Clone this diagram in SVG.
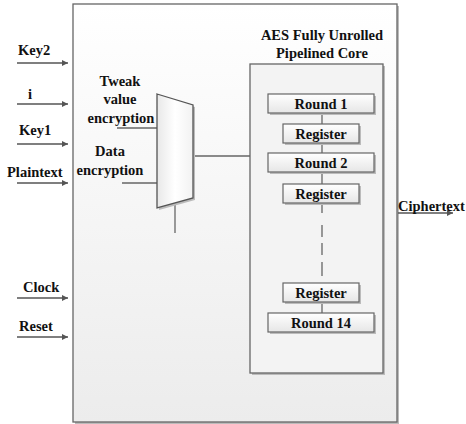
<svg xmlns="http://www.w3.org/2000/svg" width="466" height="424" viewBox="0 0 466 424">
<defs>
<linearGradient id="gBig" x1="0" y1="0" x2="0" y2="1"><stop offset="0" stop-color="#ffffff"/><stop offset="1" stop-color="#ececec"/></linearGradient>
<linearGradient id="gBox" x1="0" y1="0" x2="0" y2="1"><stop offset="0" stop-color="#ffffff"/><stop offset="1" stop-color="#e6e6e6"/></linearGradient>
<linearGradient id="gMux" x1="0" y1="0" x2="1" y2="0"><stop offset="0" stop-color="#e8e8e8"/><stop offset="0.5" stop-color="#ffffff"/><stop offset="1" stop-color="#f2f2f2"/></linearGradient>
<marker id="arr" viewBox="0 0 10 10" refX="10" refY="5" markerWidth="6" markerHeight="6" markerUnits="userSpaceOnUse" orient="auto"><path d="M0,0 L10,5 L0,10 z" fill="#555"/></marker>
</defs>
<style>
text{font-family:'Liberation Serif','Times New Roman',Times,serif;font-weight:700;font-size:14.5px;fill:#111}
.ln{stroke:#666;stroke-width:1.3;fill:none}
.bx{fill:url(#gBox);stroke:#666;stroke-width:1.2}
.sh{fill:#bbb}
.in{stroke:#555;stroke-width:1.3;fill:none;marker-end:url(#arr)}
</style>
<rect width="466" height="424" fill="#ffffff"/>
<g id="main">
<rect x="75" y="6" width="324" height="418" class="sh"/>
<rect x="73" y="4" width="324" height="418" fill="url(#gBig)" stroke="#666" stroke-width="1.3"/>
</g>
<g id="core">
<rect x="252" y="66" width="133" height="309" class="sh"/>
<rect x="250" y="64" width="133" height="309" fill="#f3f3f3" stroke="#666" stroke-width="1.3"/>
<text x="322" y="40" text-anchor="middle">AES Fully Unrolled</text>
<text x="322" y="58" text-anchor="middle">Pipelined Core</text>
</g>
<g id="connectors">
<line class="ln" x1="322" y1="113" x2="322" y2="124"/>
<line class="ln" x1="322" y1="143" x2="322" y2="153"/>
<line class="ln" x1="322" y1="173" x2="322" y2="184"/>
<path class="ln" stroke="#555" d="M322,203 V213 M322,225 V237 M322,243 V255 M322,262 V276"/>
<line class="ln" x1="322" y1="303" x2="322" y2="313"/>
<line class="ln" x1="193" y1="156" x2="250" y2="156"/>
<line class="ln" x1="117" y1="128" x2="157" y2="128"/>
<line class="ln" x1="122" y1="183" x2="157" y2="183"/>
<line class="ln" x1="175" y1="205" x2="175" y2="233"/>
<line class="in" x1="17" y1="63" x2="68" y2="63"/>
<line class="in" x1="17" y1="104" x2="68" y2="104"/>
<line class="in" x1="17" y1="144" x2="68" y2="144"/>
<line class="in" x1="17" y1="183" x2="68" y2="183"/>
<line class="in" x1="17" y1="298" x2="68" y2="298"/>
<line class="in" x1="17" y1="337" x2="68" y2="337"/>
<line class="in" x1="398" y1="213" x2="453" y2="213"/>
</g>
<g id="mux">
<polygon points="159,96 195,107 195,200 159,210" class="sh"/>
<polygon points="157,94 193,105 193,198 157,208" fill="url(#gMux)" stroke="#555" stroke-width="1.3"/>
</g>
<g id="round1"><rect x="270" y="96" width="106" height="19" class="sh"/><rect x="268" y="94" width="106" height="19" class="bx"/><text x="321" y="109" text-anchor="middle">Round 1</text></g>
<g id="reg1"><rect x="285" y="126" width="76" height="19" class="sh"/><rect x="283" y="124" width="76" height="19" class="bx"/><text x="321" y="139" text-anchor="middle">Register</text></g>
<g id="round2"><rect x="270" y="155" width="106" height="19" class="sh"/><rect x="268" y="153" width="106" height="19" class="bx"/><text x="321" y="168" text-anchor="middle">Round 2</text></g>
<g id="reg2"><rect x="285" y="186" width="76" height="19" class="sh"/><rect x="283" y="184" width="76" height="19" class="bx"/><text x="321" y="199" text-anchor="middle">Register</text></g>
<g id="reg3"><rect x="285" y="285" width="76" height="19" class="sh"/><rect x="283" y="283" width="76" height="19" class="bx"/><text x="321" y="298" text-anchor="middle">Register</text></g>
<g id="round14"><rect x="270" y="315" width="106" height="19" class="sh"/><rect x="268" y="313" width="106" height="19" class="bx"/><text x="321" y="328" text-anchor="middle">Round 14</text></g>
<g id="labels">
<text x="18" y="55">Key2</text>
<text x="28" y="99">i</text>
<text x="19" y="135">Key1</text>
<text x="7" y="177">Plaintext</text>
<text x="23" y="292">Clock</text>
<text x="19" y="331">Reset</text>
<text x="120" y="86" text-anchor="middle">Tweak</text>
<text x="120" y="104" text-anchor="middle">value</text>
<text x="121" y="123" text-anchor="middle">encryption</text>
<text x="110" y="156" text-anchor="middle">Data</text>
<text x="110" y="175" text-anchor="middle">encryption</text>
<text x="398" y="211">Ciphertext</text>
</g>
</svg>
